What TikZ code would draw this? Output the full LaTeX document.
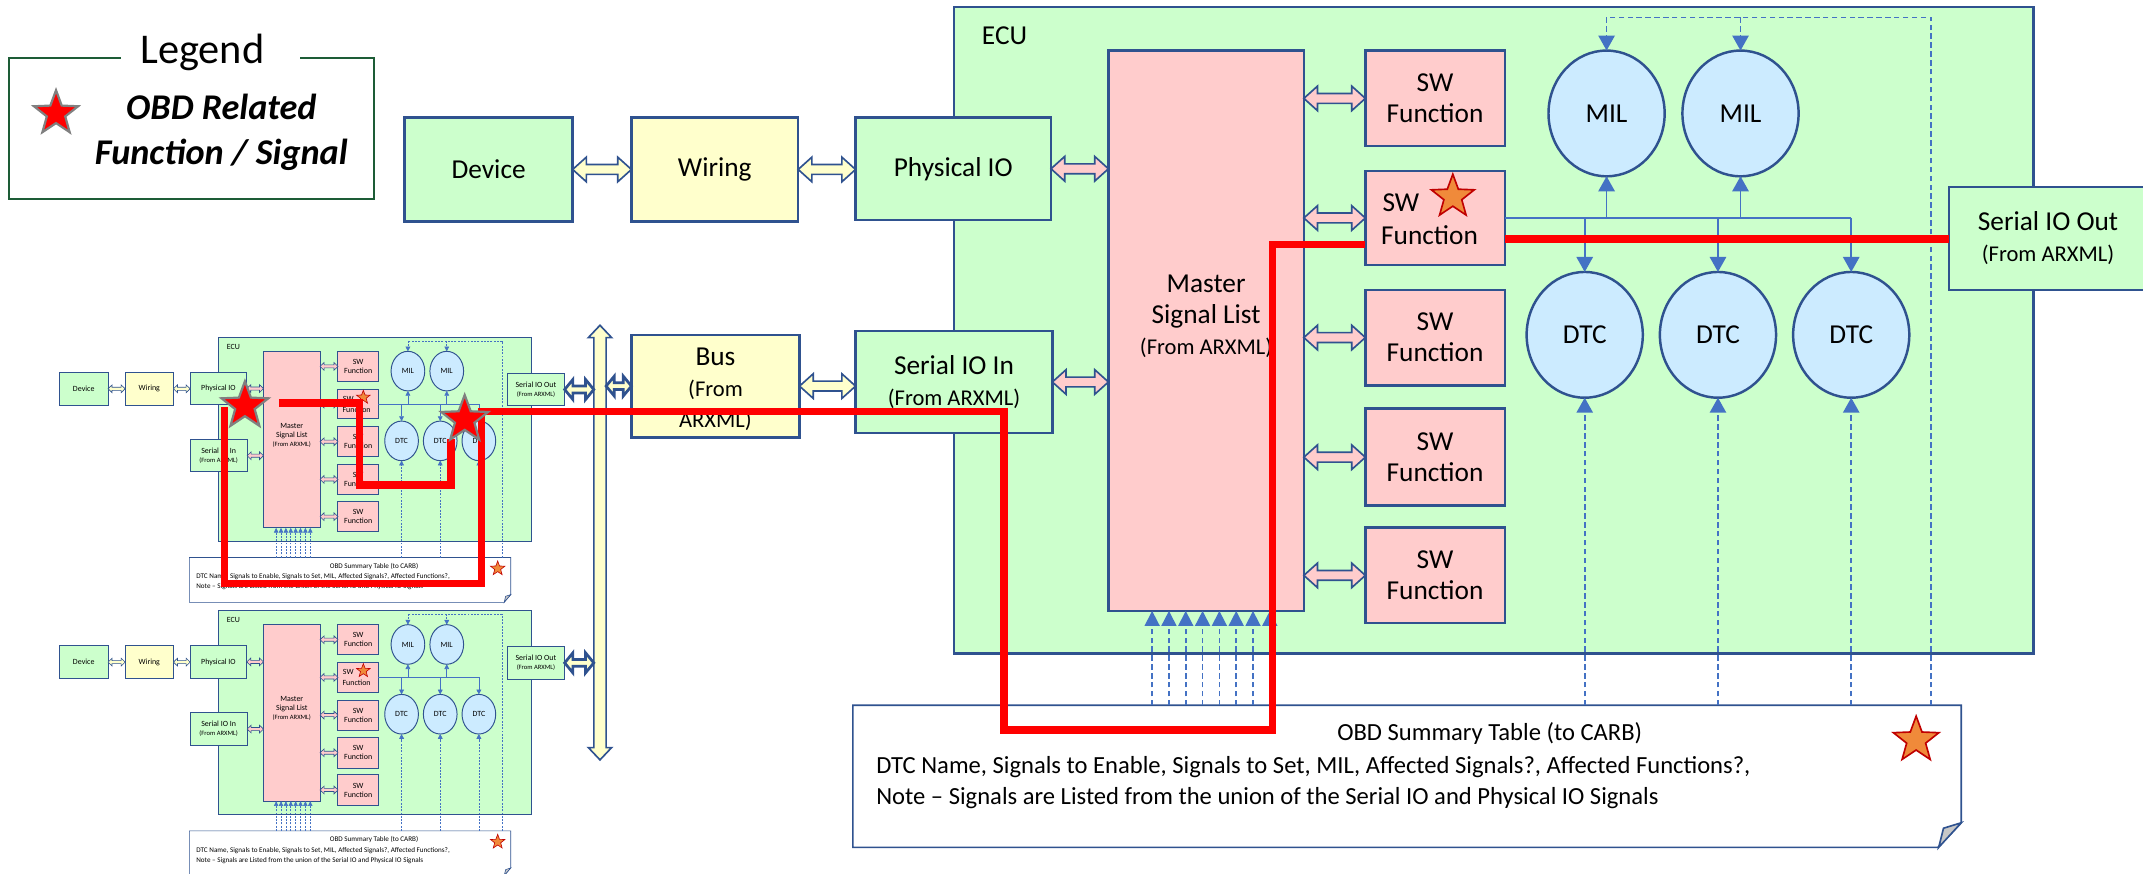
\documentclass[tikz,border=0pt]{standalone}
\usepackage{fontspec}
\setmainfont{Carlito}
\usepackage{xfp}
\usetikzlibrary{shapes.geometric,arrows.meta}
\definecolor{grn}{HTML}{CCFFCC}
\definecolor{pnk}{HTML}{FFCCCC}
\definecolor{yel}{HTML}{FFFFCC}
\definecolor{lblu}{HTML}{CCEBFF}
\definecolor{bdr}{HTML}{2F528F}
\definecolor{thinb}{HTML}{4472C4}
\definecolor{lgd}{HTML}{1D5C36}
\definecolor{sorange}{HTML}{F08A3A}
\definecolor{sred}{HTML}{C00000}
\definecolor{sgray}{HTML}{808080}

\newcommand\FSZ[1]{\fontsize{\fpeval{#1*\FS}}{\fpeval{1.13*#1*\FS}}\selectfont}
\def\SX{1}\def\SY{1}\def\FS{1}\def\LW{1.8pt}\def\TW{1.2pt}\def\DON{4pt}\def\DOFF{2.5pt}
\def\AW{12}\def\AL{11}\def\AWs{11}\def\ALs{11}
\newcommand\setsys[7]{\def\SX{#1}\def\SY{#2}\def\FS{#3}\def\LW{#4}\def\TW{#5}\def\DON{#6}\def\DOFF{#7}%
  \pgfmathsetmacro\AW{12*#1}\pgfmathsetmacro\AL{11*#2}\pgfmathsetmacro\AWs{11*#1}\pgfmathsetmacro\ALs{11*#2}}

\tikzset{
  sz/.style 2 args={minimum width={(#1)*\SX}, minimum height={(#2)*\SY}, inner sep=0pt, outer sep=0pt},
  bx/.style={draw=bdr, line width=\LW, align=center, font=\FSZ{20}},
  gbox/.style={bx, fill=grn},
  pbox/.style={bx, fill=pnk},
  ybox/.style={bx, fill=yel},
  ell/.style={ellipse, bx, fill=lblu},
  txt/.style={inner sep=0pt, align=center, font=\FSZ{20}},
  fatY/.style={draw=bdr, line width=\TW, fill=yel},
  fatYs/.style={draw=bdr, line width=2pt, fill=yel},
  fatP/.style={draw=bdr, line width=\TW, fill=pnk},
  thinl/.style={draw=thinb, line width=\TW},
  dashl/.style={draw=thinb, line width=\TW, dash pattern=on \DON off \DOFF},
  ahead/.style={-{Triangle[width=\AW pt,length=\AL pt]}},
  aheads/.style={-{Triangle[width=\AWs pt,length=\ALs pt]}},
  ostar/.style={star, star points=5, star point ratio=2.4, draw=sred, line width=\TW, fill=sorange, inner sep=0pt},
  rstar/.style={star, star points=5, star point ratio=2.4, draw=sgray, line width=1.6pt, fill=red, inner sep=0pt, minimum size=36pt},
  redl/.style={draw=red, line width=5.5pt},
}

% horizontal double arrow: style, left tip, length, head length, head half-width, shaft half-width
\newcommand\hdbl[6]{\path[#1] (#2) -- ++(#4,-#5) -- ++(0,{#5-#6}) -- ++({#3-2*(#4)},0) -- ++(0,{#6-#5}) -- ++(#4,#5) -- ++(-#4,#5) -- ++(0,{#6-#5}) -- ++({-(#3-2*(#4))},0) -- ++(0,{#5-#6}) -- cycle;}
% vertical double arrow: style, top tip, length, head length, head half-width, shaft half-width
\newcommand\vdbl[6]{\path[#1] (#2) -- ++(-#5,#4) -- ++({#5-#6},0) -- ++(0,{#3-2*(#4)}) -- ++({#6-#5},0) -- ++(#5,#4) -- ++(#5,-#4) -- ++({#6-#5},0) -- ++(0,{-(#3-2*(#4))}) -- ++({#5-#6},0) -- cycle;}

% the whole ECU system: #1 prefix, #2 y of Serial IO Out
\newcommand\ecusys[2]{%
  \node[gbox, sz={790}{473}] (#1ecu) at (1093,241.5) {};
  \node[txt] (#1ecul) at (735,26) {ECU};
  \node[gbox, sz={123}{76}] (#1dev) at (357.5,124) {Device};
  \node[ybox, sz={122}{76}] (#1wir) at (523,124) {Wiring};
  \node[gbox, sz={143}{75}] (#1pio) at (697.5,123.5) {Physical IO};
  \node[gbox, sz={144}{75}] (#1sin) at (698,279.5) {Serial IO In\\{\FSZ{16.5}(From ARXML)}};
  \node[pbox, sz={143}{410}] (#1mast) at (882.5,242) {};
  \node[txt] (#1mastt) at (882.5,231.5) {Master\\Signal List\\{\FSZ{16.5}(From ARXML)}};
  \node[pbox, sz={102}{70}] (#1sw1) at (1050,72) {SW\\Function};
  \node[pbox, sz={102}{69}] (#1sw2) at (1050,159.5) {};
  \node[txt] (#1sw2a) at (1025,148) {SW};
  \node[txt] (#1sw2b) at (1046,172) {Function};
  \node[ostar, minimum size={33*\SY}] (#1sw2s) at (1063,144) {};
  \node[pbox, sz={102}{70}] (#1sw3) at (1050,247) {SW\\Function};
  \node[pbox, sz={102}{71}] (#1sw4) at (1050,334.5) {SW\\Function};
  \node[pbox, sz={102}{70}] (#1sw5) at (1050,421) {SW\\Function};
  \node[ell, sz={85}{92}] (#1mil1) at (1175.5,83) {MIL};
  \node[ell, sz={85}{92}] (#1mil2) at (1273.5,83) {MIL};
  \node[ell, sz={85}{92}] (#1dtc1) at (1159.5,245) {DTC};
  \node[ell, sz={85}{92}] (#1dtc2) at (1257,245) {DTC};
  \node[ell, sz={85}{92}] (#1dtc3) at (1354.5,245) {DTC};
  \node[gbox, sz={145}{75}] (#1sout) at (1498.5,#2) {Serial IO Out\\{\FSZ{16.5}(From ARXML)}};
  % summary table
  \node[sz={811}{104}] (#1tab) at (1029.5,568) {};
  \path[draw=bdr, line width=\TW, fill=white] (#1tab.north west) -- (#1tab.north east) -- ++(0,86) -- ++(-17,18) -- (#1tab.south west) -- cycle;
  \path[draw=bdr, line width=\TW, fill=black!22] (#1tab.north east) ++(0,86) -- ++(-13,4) -- ++(-3.5,14) -- cycle;
  \node[txt, font=\FSZ{18}] (#1tabt) at (1090,537) {OBD Summary Table (to CARB)};
  \node[txt, font=\FSZ{18}, anchor=west] (#1tab2) at (641,561) {DTC Name, Signals to Enable, Signals to Set, MIL, Affected Signals?, Affected Functions?,};
  \node[txt, font=\FSZ{18}, anchor=west] (#1tab3) at (641,584) {Note – Signals are Listed from the union of the Serial IO and Physical IO Signals};
  \node[ostar, minimum size={35*\SY}] (#1tabs) at (1402,541.5) {};
  % fat double arrows
  \hdbl{fatY}{#1dev.east}{43}{10}{9}{3.6}
  \hdbl{fatY}{#1wir.east}{42}{10}{9}{3.6}
  \hdbl{fatP}{#1pio.east}{42}{10}{9}{3.6}
  \hdbl{fatP}{#1sin.east}{41}{10}{9}{3.6}
  \foreach \k in {1,...,5}{\hdbl{fatP}{#1mast.east |- #1sw\k.west}{45}{10}{9}{3.6}}
  % thin solid connectors
  \draw[thinl] (#1sw2.east) -- (#1dtc3.north |- #1sw2.east);
  \foreach \nn in {mil1,mil2}{\draw[thinl,ahead] (#1\nn.south |- #1sw2.east) -- (#1\nn.south);}
  \foreach \nn in {dtc1,dtc2,dtc3}{\draw[thinl,ahead] (#1\nn.north |- #1sw2.east) -- (#1\nn.north);}
  % dashed connectors
  \coordinate (#1dc) at (1413,12.7);
  \draw[dashl] (#1dc |- #1tab.north) -- (#1dc) -- (#1mil1.north |- #1dc);
  \foreach \nn in {mil1,mil2}{\draw[dashl,ahead] (#1\nn.north |- #1dc) -- (#1\nn.north);}
  \foreach \nn in {dtc1,dtc2,dtc3}{\draw[dashl,ahead] (#1\nn.south |- #1tab.north) -- (#1\nn.south);}
  \foreach \i in {0,...,7}{\coordinate (#1ma\i) at ({843+12.3*\i},0);
    \draw[dashl,aheads] (#1ma\i |- #1tab.north) -- (#1ma\i |- #1mast.south);}
}

\begin{document}
\begin{tikzpicture}[x=1pt,y=-1pt]
\useasboundingbox (0,0) rectangle (1568,639);

% ---- thumbnails ----
\begin{scope}[shift={(-42.42pt,-245.4pt)}, x=0.29pt, y=-0.315pt]
  \setsys{0.29}{0.315}{0.29}{0.7pt}{0.45pt}{1.4pt}{1pt}
  \ecusys{t}{125.7}
\end{scope}
\begin{scope}[shift={(-42.42pt,-445.4pt)}, x=0.29pt, y=-0.315pt]
  \setsys{0.29}{0.315}{0.29}{0.7pt}{0.45pt}{1.4pt}{1pt}
  \ecusys{b}{125.7}
\end{scope}

% ---- legend ----
\node[sz={266.8}{103.1}] (leg) at (140.2,94.25) {};
\draw[lgd, line width=1.6pt] (leg.north west) ++(81.5,0) -- (leg.north west) -- (leg.south west) -- (leg.south east) -- (leg.north east) -- ++(-54.1,0);
\node[txt, font=\fontsize{31}{34}\selectfont] (legt) at (148,38) {Legend};
\node[rstar, minimum size=34pt] (legs) at (41,83) {};
\node[txt, font=\fontsize{26.5}{33}\selectfont\bfseries\itshape] (legx) at (162,97) {OBD Related\\Function / Signal};

% ---- main system ----
\ecusys{m}{174.5}

% ---- bus ----
\node[ybox, sz={123}{75}] (bus) at (523.5,282.5) {};
\node[txt] (bust) at (523.5,285) {Bus\\{\FSZ{16.5}(From}\\{\FSZ{16.5}ARXML)}};
\coordinate (bustop) at (439,238);
\vdbl{fatY}{bustop}{318}{9}{8.5}{4.5}
\hdbl{fatYs}{tsout.east}{21.3}{6}{7.3}{2.5}
\hdbl{fatYs}{bsout.east}{21.3}{6}{7.3}{2.5}
\coordinate (busR) at (443.5,282.5);
\hdbl{fatYs}{busR}{18.5}{6}{7.3}{2.5}
\hdbl{fatY}{bus.east}{41}{10}{9}{3.6}

% ---- red OBD path ----
\draw[redl] (204,295) -- (263,295) -- (263,355) -- (330,355) -- (330,321);
\coordinate (rA) at (931,179);
\draw[redl] (164.3,298) -- (164.3,427) -- (352.4,427) -- (352.4,301) -- (734.6,301) -- (734.6,534) -- (931,534) -- (rA) -- (rA -| msw2.west);
\coordinate (rB) at (1101,175);
\draw[redl] (rB -| msw2.east) -- (rB -| msout.west);
\node[rstar] (st1) at (179.2,297) {};
\node[rstar] (st2) at (340,307) {};
\end{tikzpicture}
\end{document}
